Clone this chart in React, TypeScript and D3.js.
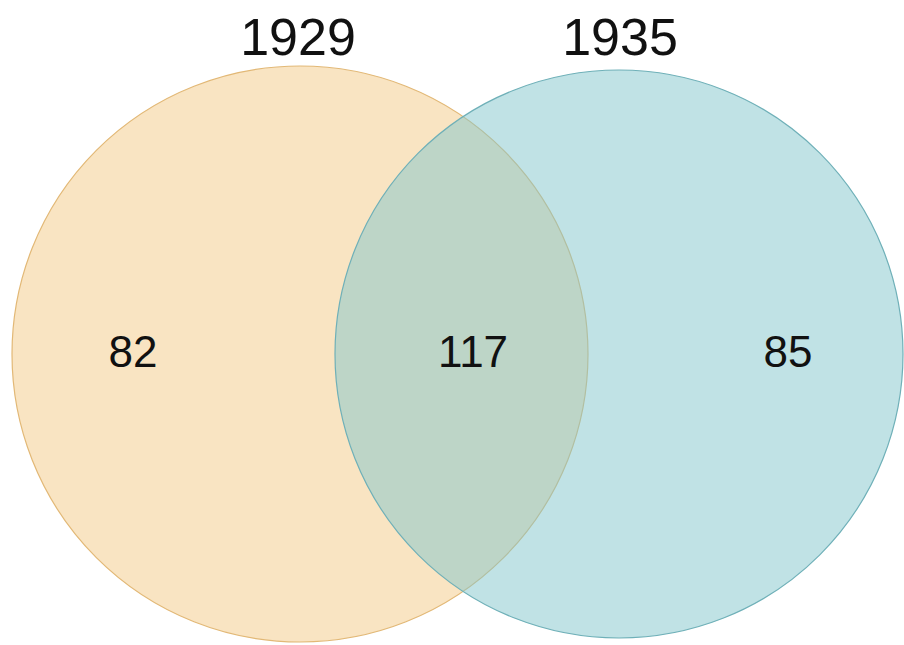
import React from "react";
import * as d3 from "d3";

const setNames = ["1929", "1935"];
const regionLabels = ["82", "117", "85"];
const regionValues = [82, 117, 85];
const setColors = ["#F3C985", "#81C5CB"];
const strokeColors = ["#E2B876", "#6FB0B8"];

const W = 904;
const H = 645;

export default function App() {
  // layout of circles (geometry)
  const cy = 354;
  const centers = [300, 619];
  const radii = [288, 284];
  const x = d3.scaleLinear().domain([0, 1]).range([centers[0], centers[1]]);

  // label positions for regions
  const regionX = [133, 473, 788];

  return (
    <div style={{ position: "absolute", left: 0, top: 0 }}>
      <svg width={W} height={H} style={{ display: "block", background: "#fff" }}>
        {setNames.map((s, i) => (
          <circle
            key={s}
            cx={x(i)}
            cy={cy}
            r={radii[i]}
            fill={setColors[i]}
            fillOpacity={0.5}
            stroke={strokeColors[i]}
            strokeWidth={1.2}
          />
        ))}
        {setNames.map((s, i) => (
          <text
            key={"t" + s}
            x={[298, 620][i]}
            y={55}
            textAnchor="middle"
            fontFamily="'Liberation Sans', Arial, sans-serif"
            fontSize={52}
            fill="#111"
          >
            {s}
          </text>
        ))}
        {regionValues.map((v, i) => (
          <text
            key={"r" + i}
            x={regionX[i]}
            y={367}
            textAnchor="middle"
            fontFamily="'Liberation Sans', Arial, sans-serif"
            fontSize={44}
            fill="#111"
          >
            {regionLabels[i]}
          </text>
        ))}
      </svg>
    </div>
  );
}
